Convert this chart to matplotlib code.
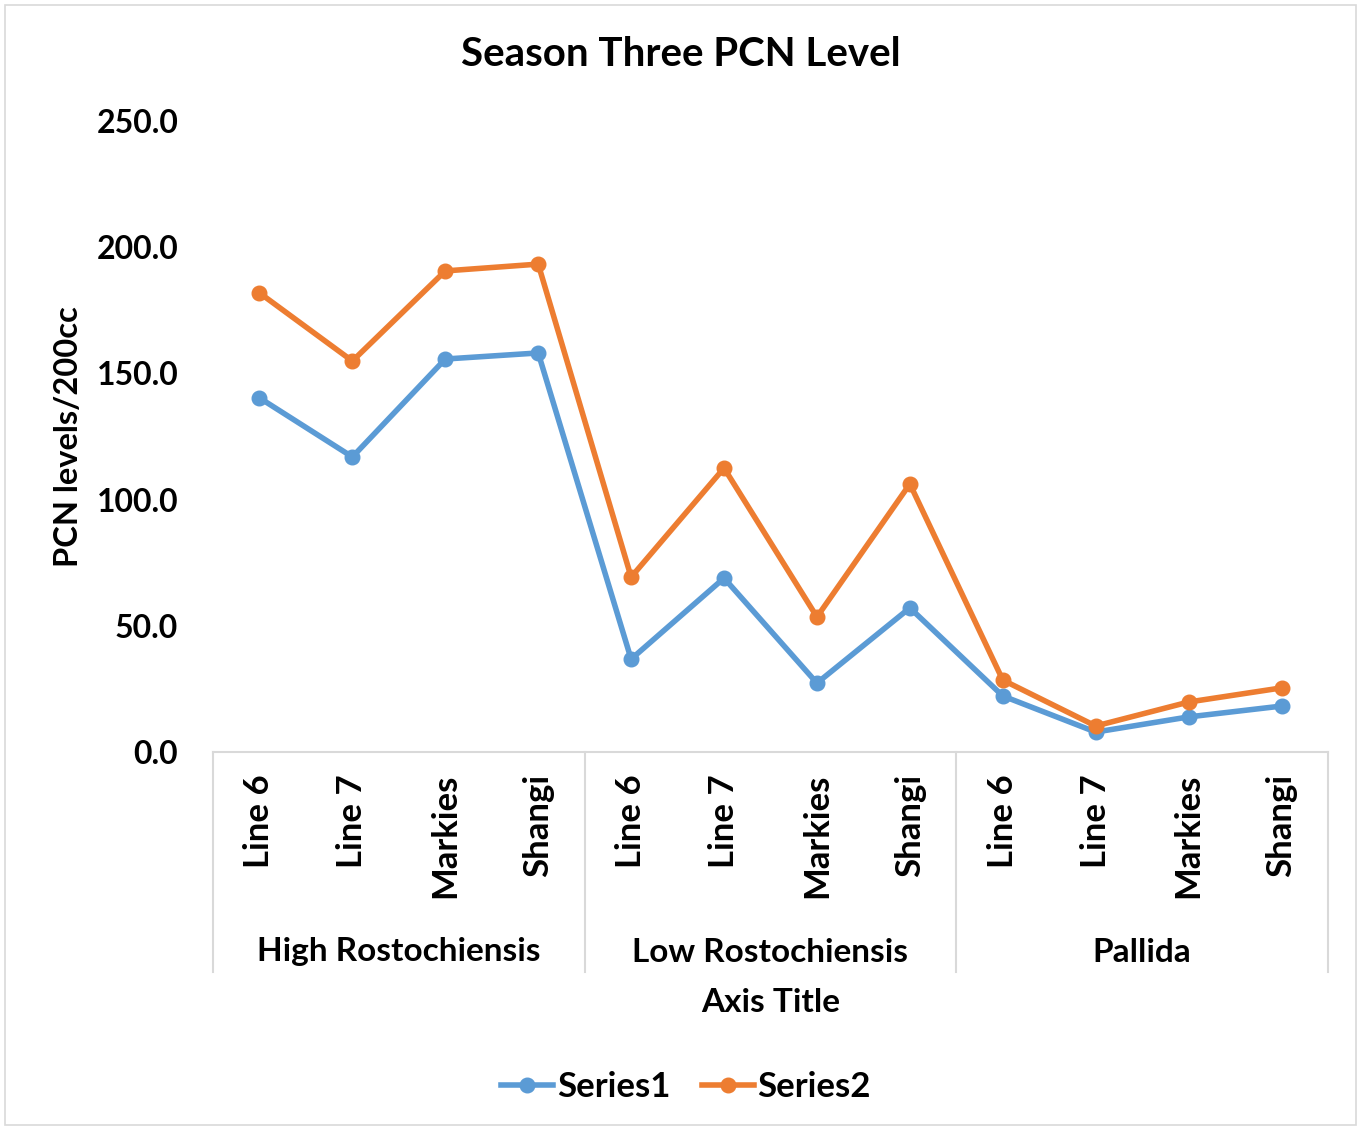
import matplotlib.pyplot as plt
from matplotlib.patches import Rectangle
import matplotlib.transforms as mtransforms

plt.rcParams["font.family"] = ["Lato", "DejaVu Sans"]
plt.rcParams["font.weight"] = "bold"

groups = ["High Rostochiensis", "Low Rostochiensis", "Pallida"]
varieties = ["Line 6", "Line 7", "Markies", "Shangi"]
series1 = [140.3, 116.9, 155.7, 158.1, 36.8, 68.9, 27.3, 57.1, 22.2, 7.9, 13.9, 18.2]
series2 = [181.9, 154.9, 190.6, 193.3, 69.3, 112.5, 53.5, 106.2, 28.5, 10.3, 19.8, 25.4]
yticks = [0, 50, 100, 150, 200, 250]

blue = "#5B9BD5"
orange = "#ED7D31"
grey = "#D9D9D9"
fs = 24

fig = plt.figure(figsize=(13.61, 11.3), dpi=100)
ax = fig.add_axes([213 / 1361, 1 - 752 / 1130, (1328 - 213) / 1361, (752 - 121) / 1130])

x = list(range(len(series1)))
ax.plot(x, series1, color=blue, lw=4, marker="o", ms=10.5, label="Series1", clip_on=False)
ax.plot(x, series2, color=orange, lw=4, marker="o", ms=10.5, label="Series2", clip_on=False)

ax.set_xlim(-0.5, len(x) - 0.5)
ax.set_ylim(0, 250)
ax.set_yticks(yticks)
ax.set_yticklabels([f"{v:.1f}" for v in yticks], fontsize=fs - 1, fontweight="bold")
ax.tick_params(axis="y", length=0, pad=25)
ax.set_xticks([])
for s in ["top", "right", "left"]:
    ax.spines[s].set_visible(False)
ax.spines["bottom"].set_color(grey)
ax.spines["bottom"].set_linewidth(1.5)

# category labels
trans = mtransforms.blended_transform_factory(ax.transData, ax.transAxes)
px = 1 / (752 - 121)
for i in x:
    ax.text(i, -22 * px, varieties[i % 4], transform=trans, rotation=90,
            ha="center", va="top", fontsize=fs + 1, fontweight="bold")

# group labels and separators
for g, name in enumerate(groups):
    ax.text(g * 4 + 1.5, -200 * px, name, transform=trans, ha="center", va="center",
            fontsize=fs, fontweight="bold")
for b in range(4):
    ax.plot([b * 4 - 0.5, b * 4 - 0.5], [0, -220 * px], transform=trans,
            color=grey, lw=1.5, clip_on=False)

ax.text(5.5, -250 * px, "Axis Title", transform=trans, ha="center", va="center",
        fontsize=fs, fontweight="bold")
ax.set_ylabel("PCN levels/200cc", fontsize=fs - 0.5, fontweight="bold", labelpad=10)

fig.text(681 / 1361, 1 - 55 / 1130, "Season Three PCN Level", ha="center", va="center",
         fontsize=29, fontweight="bold")

fig.legend(loc="center", bbox_to_anchor=(686 / 1361, 1 - 1087 / 1130), ncol=2,
           frameon=False, fontsize=fs + 1, handlelength=1.5, columnspacing=0.9, handletextpad=0.1)

fig.patches.append(Rectangle((5 / 1361, 5 / 1130), 1351 / 1361, 1120 / 1130,
                             transform=fig.transFigure, fill=False, edgecolor=grey, lw=1.2))

fig.savefig("out.png", dpi=100)
